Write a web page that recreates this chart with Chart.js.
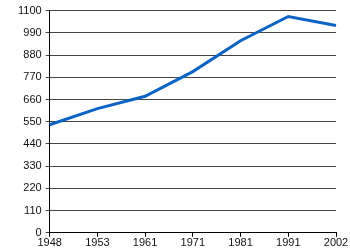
<!DOCTYPE html>
<html>
<head>
<meta charset="utf-8">
<script src="https://cdn.jsdelivr.net/npm/chart.js@4"></script>
<style>
  html, body { margin: 0; padding: 0; background: #fff; }
  #wrap { width: 350px; height: 250px; }
</style>
</head>
<body>
<div id="wrap"><canvas id="grafico"></canvas></div>
<script>
// datos
const anios = ['1948', '1953', '1961', '1971', '1981', '1991', '2002']
const poblacion = [535, 615, 676, 798, 951, 1071, 1026]
const ticksY = [0, 110, 220, 330, 440, 550, 660, 770, 880, 990, 1100]

Chart.defaults.font.family = "'Liberation Sans', Arial, sans-serif"
Chart.defaults.font.size = 11
Chart.defaults.color = '#111'

let graf = new Chart('grafico', {
    type: 'line',
    data: {
        labels: anios,
        datasets: [{
            data: poblacion,
            borderColor: '#0b63c5',
            borderWidth: 3,
            pointRadius: 0,
            tension: 0,
            fill: false
        }]
    },
    options: {
        responsive: true,
        maintainAspectRatio: false,
        animation: false,
        layout: { padding: { left: 14, right: 14, top: 4, bottom: 0 } },
        plugins: { legend: { display: false }, tooltip: { enabled: false } },
        scales: {
            x: {
                offset: false,
                grid: { drawOnChartArea: false, drawTicks: true, tickLength: 4, color: '#000' },
                border: { color: '#000', width: 1 },
                ticks: { padding: 0, maxRotation: 0, autoSkip: false }
            },
            y: {
                min: 0,
                max: 1100,
                afterBuildTicks: axis => { axis.ticks = ticksY.map(v => ({ value: v })) },
                grid: { color: '#444', tickLength: 4, lineWidth: 1 },
                border: { color: '#000', width: 1 },
                ticks: { padding: 4, callback: v => String(v) }
            }
        }
    }
})
</script>
</body>
</html>
